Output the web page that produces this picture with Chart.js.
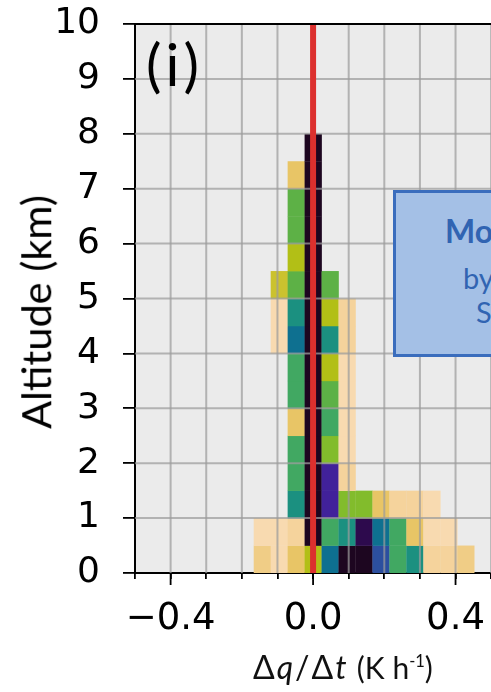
<!DOCTYPE html>
<html>
<head>
<meta charset="utf-8">
<script src="https://cdn.jsdelivr.net/npm/chart.js@4/dist/chart.umd.min.js"></script>
<style>
  html, body { margin: 0; padding: 0; background: #fff; }
  body { width: 491px; height: 692px; overflow: hidden; position: relative; }
  #wrap { position: absolute; left: 0; top: 0; width: 620px; height: 692px; }
  canvas { position: absolute; left: 0; top: 0; }
  .panel { position: absolute; left: 146px; top: 35px; font-family: Lato, sans-serif; font-size: 58px; line-height: 1; color: #000; letter-spacing: 4px; }
  .ytitle { position: absolute; left: 36px; top: 312px; transform: translate(-50%, -50%) rotate(-90deg);
            font-family: Lato, sans-serif; font-size: 41.5px; line-height: 1; color: #000; white-space: nowrap; }
  .note { position: absolute; left: 393px; top: 190px; width: 220px; height: 167px; box-sizing: border-box;
          background: #a4c0e6; border: 3px solid #3a6dbd; }
  .note span { position: absolute; font-family: Lato, sans-serif; color: #3164b2; font-size: 29px; line-height: 1; white-space: nowrap; }
  .xtitle { position: absolute; left: 253px; top: 651px; font-family: Lato, sans-serif; font-size: 32px; line-height: 1; color: #111; white-space: nowrap; }
  .xtitle .q { letter-spacing: 2px; }
  .xtitle .unit { font-size: 30px; }
  .xtitle sup { font-size: 0.55em; vertical-align: 0.7em; line-height: 0; }
</style>
</head>
<body>
<div id="wrap">
  <canvas id="c" width="620" height="692"></canvas>
  <div class="panel">(i)</div>
  <div class="ytitle">Altitude (km)</div>
  <div class="note">
    <span style="left:49px; top:22px; font-weight:700; font-size:32px;">Mo</span>
    <span style="left:67px; top:70px;">by</span>
    <span style="left:80px; top:104px;">S</span>
  </div>
  <div class="xtitle"><span class="q">Δ<i>q</i>/Δ<i>t</i></span> <span class="unit">(K h<sup>-1</sup>)</span></div>
</div>
<script>
// Altitude bin edges (km)
const altEdges = [0, 0.5, 1, 1.5, 2, 2.5, 3, 3.5, 4, 4.5, 5, 5.5, 6, 6.5, 7, 7.5, 8];
// Heating-rate bin edges (K/h), 21 bins over [-0.5, 0.5]
const rateEdges = [-0.5, -0.45238, -0.40476, -0.35714, -0.30952, -0.2619, -0.21429, -0.16667,
  -0.11905, -0.07143, -0.02381, 0.02381, 0.07143, 0.11905, 0.16667, 0.21429, 0.2619,
  0.30952, 0.35714, 0.40476, 0.45238, 0.5];
// index of the first rate bin stored in each row of `levels`
const firstBin = 7;
// colour level per cell (0 = empty), rows from the surface upward, bins 7..19
const levels = [
  [3, 1, 4, 6, 11, 15, 15, 12, 9, 10, 2, 2, 3],
  [1, 1, 2, 15, 9, 10, 14, 11, 9, 4, 1, 1, 0],
  [0, 0, 10, 15, 13, 7, 7, 4, 2, 2, 1, 0, 0],
  [0, 0, 9, 15, 13, 2, 0, 0, 0, 0, 0, 0, 0],
  [0, 0, 9, 15, 7, 1, 0, 0, 0, 0, 0, 0, 0],
  [0, 0, 4, 15, 9, 1, 0, 0, 0, 0, 0, 0, 0],
  [0, 0, 9, 15, 8, 1, 0, 0, 0, 0, 0, 0, 0],
  [0, 0, 9, 15, 6, 1, 0, 0, 0, 0, 0, 0, 0],
  [0, 1, 11, 15, 10, 2, 0, 0, 0, 0, 0, 0, 0],
  [0, 1, 10, 15, 6, 2, 0, 0, 0, 0, 0, 0, 0],
  [0, 5, 8, 15, 8, 0, 0, 0, 0, 0, 0, 0, 0],
  [0, 0, 6, 15, 0, 0, 0, 0, 0, 0, 0, 0, 0],
  [0, 0, 8, 15, 0, 0, 0, 0, 0, 0, 0, 0, 0],
  [0, 0, 8, 15, 0, 0, 0, 0, 0, 0, 0, 0, 0],
  [0, 0, 4, 15, 0, 0, 0, 0, 0, 0, 0, 0, 0],
  [0, 0, 0, 15, 0, 0, 0, 0, 0, 0, 0, 0, 0]
];
// colour map, light (rare) to dark (frequent)
const palette = [null,
  '#f8dab0', '#f5d39c', '#f0cd86', '#e8c566', '#cbc22e', '#b2bf16', '#82bc2c',
  '#5db146', '#41a862', '#1b9080', '#0e7090', '#2c4f9f', '#41219a', '#2d0a4d', '#1d0620'];
// zero line
const zeroLineX = [0, 0];
const zeroLineY = [0, 10];
// labelled x ticks
const xLabelled = [-0.4, 0, 0.4];
const xRange = [-0.5, 0.8];
const yRange = [0, 10];

const near = (a, b) => Math.abs(a - b) < 1e-6;

const heatmapPlugin = {
  id: 'heatmapCells',
  beforeDraw(chart) {
    const { ctx, chartArea: a } = chart;
    ctx.save();
    ctx.fillStyle = '#ebebeb';
    ctx.fillRect(a.left, a.top, a.right - a.left, a.bottom - a.top);
    ctx.restore();
  },
  beforeDatasetsDraw(chart) {
    const { ctx, chartArea: a, scales: { x, y } } = chart;
    ctx.save();
    ctx.beginPath();
    ctx.rect(a.left, a.top, a.right - a.left, a.bottom - a.top);
    ctx.clip();
    levels.forEach((row, r) => {
      row.forEach((lv, c) => {
        if (!lv) return;
        const k = firstBin + c;
        const x0 = x.getPixelForValue(rateEdges[k]);
        const x1 = x.getPixelForValue(rateEdges[k + 1]);
        const y0 = y.getPixelForValue(altEdges[r]);
        const y1 = y.getPixelForValue(altEdges[r + 1]);
        ctx.fillStyle = palette[lv];
        ctx.fillRect(x0, y1, x1 - x0 + 0.3, y0 - y1 + 0.3);
      });
    });
    // grid over the cells
    ctx.strokeStyle = 'rgba(155,155,155,0.72)';
    ctx.lineWidth = 2;
    x.ticks.forEach(t => {
      if (near(t.value, xRange[0]) || near(t.value, xRange[1])) return;
      const px = x.getPixelForValue(t.value);
      ctx.beginPath(); ctx.moveTo(px, a.top); ctx.lineTo(px, a.bottom); ctx.stroke();
    });
    y.ticks.forEach(t => {
      if (near(t.value, yRange[0]) || near(t.value, yRange[1])) return;
      const py = y.getPixelForValue(t.value);
      ctx.beginPath(); ctx.moveTo(a.left, py); ctx.lineTo(a.right, py); ctx.stroke();
    });
    ctx.restore();
  },
  afterDraw(chart) {
    const { ctx, chartArea: a, scales: { x } } = chart;
    ctx.save();
    ctx.strokeStyle = '#000';
    ctx.lineWidth = 2;
    ctx.beginPath(); ctx.moveTo(a.left - 1, a.top); ctx.lineTo(a.right, a.top); ctx.stroke();
    ctx.lineWidth = 1.8;
    xLabelled.forEach(v => {
      const px = x.getPixelForValue(v);
      ctx.beginPath(); ctx.moveTo(px, a.bottom); ctx.lineTo(px, a.bottom + 12); ctx.stroke();
    });
    ctx.restore();
  }
};

new Chart(document.getElementById('c'), {
  type: 'line',
  data: {
    datasets: [{
      data: zeroLineX.map((v, i) => ({ x: v, y: zeroLineY[i] })),
      borderColor: '#dc302e',
      borderWidth: 6,
      pointRadius: 0,
      borderCapStyle: 'butt'
    }]
  },
  options: {
    responsive: false,
    devicePixelRatio: 1,
    animation: false,
    layout: { padding: { left: 0, top: 24, right: 22, bottom: 0 } },
    plugins: { legend: { display: false }, tooltip: { enabled: false } },
    scales: {
      x: {
        type: 'linear', min: xRange[0], max: xRange[1],
        afterFit: s => { s.height = 119; s.paddingLeft = 0; s.paddingRight = 0; },
        ticks: {
          stepSize: 0.1, autoSkip: false, maxRotation: 0, padding: 18,
          color: '#000', font: { family: 'DejaVu Sans', size: 37 },
          callback: v => {
            if (!xLabelled.some(l => near(l, v))) return '';
            return (v < 0 ? '\u2212' : '') + Math.abs(v).toFixed(1);
          }
        },
        grid: { drawOnChartArea: false, drawTicks: true, tickLength: 6, color: '#000', lineWidth: 1.8 },
        border: { display: true, color: '#000', width: 2 }
      },
      y: {
        type: 'linear', min: yRange[0], max: yRange[1],
        afterFit: s => { s.width = 135; s.paddingTop = 0; s.paddingBottom = 0; },
        ticks: { stepSize: 1, padding: 23, color: '#000', font: { family: 'DejaVu Sans', size: 36 } },
        grid: { drawOnChartArea: false, drawTicks: true, tickLength: 12, color: '#000', lineWidth: 1.8 },
        border: { display: true, color: '#000', width: 2 }
      }
    }
  },
  plugins: [heatmapPlugin]
});
</script>
</body>
</html>
